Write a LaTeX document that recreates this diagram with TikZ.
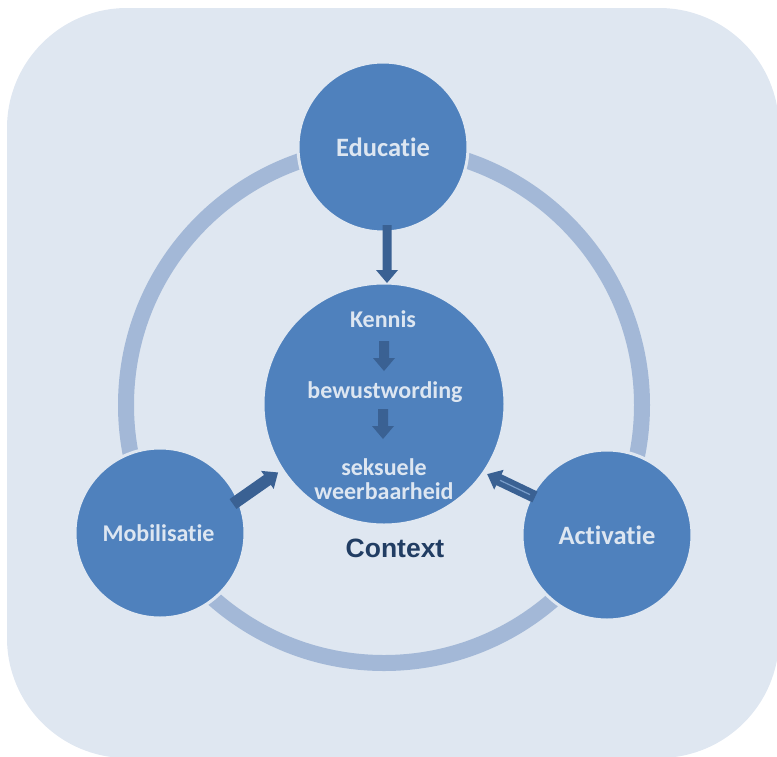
\documentclass[tikz,border=0pt]{standalone}
\usepackage{fontspec}
\setmainfont[Ligatures=NoCommon]{Carlito}
\newfontfamily\ctxfont{Liberation Sans}
\definecolor{bgc}{HTML}{DFE7F1}
\definecolor{circc}{HTML}{4F81BD}
\definecolor{ringc}{HTML}{A3B8D7}
\definecolor{arrc}{HTML}{3A6193}
\definecolor{txtc}{HTML}{DDE6F1}
\definecolor{ctxc}{HTML}{213D63}
\begin{document}
\begin{tikzpicture}[x=1pt,y=-1pt,
  bigcirc/.style={circle,fill=circc,draw=bgc,line width=3pt,inner sep=0pt},
  lbl/.style={text=txtc,font=\bfseries\fontsize{26.5}{30}\selectfont,inner sep=0pt},
  inlbl/.style={text=txtc,font=\bfseries\fontsize{24}{29}\selectfont,inner sep=0pt,align=center},
  barrow/.pic={\fill[arrc] (0,-#1) -- (\pgfkeysvalueof{/tikz/alen}-13,-#1) -- (\pgfkeysvalueof{/tikz/alen}-13,-11) -- (\pgfkeysvalueof{/tikz/alen},0) -- (\pgfkeysvalueof{/tikz/alen}-13,11) -- (\pgfkeysvalueof{/tikz/alen}-13,#1) -- (0,#1) -- cycle;},
  alen/.initial=50]
\useasboundingbox (0,0) rectangle (777,756);
\fill[bgc,rounded corners=120pt] (7,8) rectangle (779,758);
% ring
\coordinate (ctr) at (384,405);
\draw[ringc,line width=16pt] (ctr) circle[radius=258];
% circles
\node[bigcirc,minimum size=242pt] (center) at (384,404) {};
\node[bigcirc,minimum size=170pt] (edu) at (383,147) {};
\node[bigcirc,minimum size=170pt] (mob) at (160,533) {};
\node[bigcirc,minimum size=170pt] (act) at (607,535) {};
\node[lbl] at (edu) {Educatie};
\node[lbl,font=\bfseries\fontsize{24}{28}\selectfont] at ([xshift=-1.5pt]mob.center) {Mobilisatie};
\node[lbl] at (act) {Activatie};
% inner texts
\node[inlbl] (kennis) at (383,319) {Kennis};
\node[inlbl] (bewust) at (385,392) {bewustwording};
\node[inlbl] (seks) at (384,479) {seksuele\\[-5pt]weerbaarheid};
\node[text=ctxc,font=\ctxfont\bfseries\fontsize{26.5}{30}\selectfont,inner sep=0pt] (ctx) at (395,548) {Context};
% block arrows
\pic[rotate=-90,alen=58] at (387,225) {barrow=4.5};
\pic[rotate=35,alen=55] at (233,504) {barrow=6};
\pic[rotate=154.4,alen=53] at (535,497) {barrow=6};
\draw[ringc!50!circc,line width=1.2pt] (530,494.6) -- (500,480.3);
\pic[rotate=-90,alen=30] at (384,341) {barrow=5};
\pic[rotate=-90,alen=30] at (383,409) {barrow=5};
\end{tikzpicture}
\end{document}
